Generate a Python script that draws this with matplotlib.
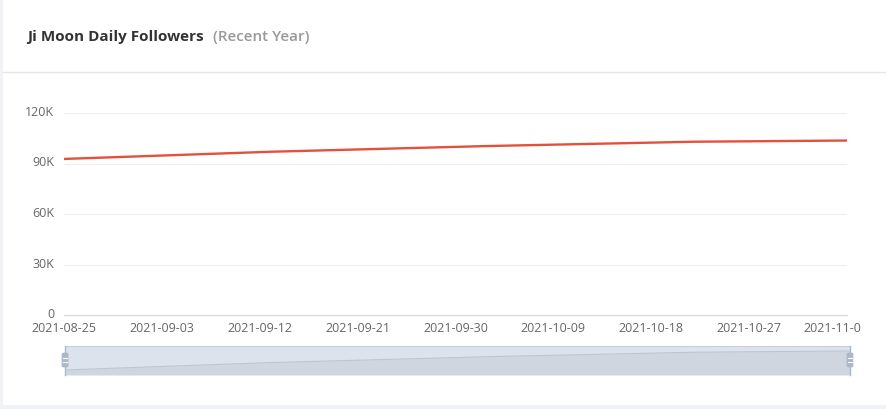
import matplotlib
matplotlib.use("Agg")
import matplotlib.pyplot as plt
import matplotlib.transforms as mtransforms
from matplotlib.patches import Rectangle, FancyBboxPatch
import numpy as np
import pandas as pd

plt.rcParams['font.family'] = ['Open Sans', 'DejaVu Sans']

title_main = "Ji Moon Daily Followers"
title_sub = "(Recent Year)"
start_date = "2021-08-25"
followers = [
    92700, 92930, 93150, 93380, 93600, 93830, 94050, 94280, 94500, 94730,
    94950, 95180, 95400, 95630, 95850, 96080, 96300, 96530, 96750, 96980,
    97150, 97320, 97490, 97660, 97830, 98000, 98170, 98340, 98510, 98680,
    98850, 99020, 99190, 99360, 99530, 99700, 99870, 100040, 100210, 100380,
    100510, 100650, 100780, 100920, 101050, 101190, 101320, 101460, 101590, 101730,
    101860, 102000, 102130, 102270, 102400, 102540, 102670, 102810, 102940, 102990,
    103040, 103090, 103140, 103190, 103240, 103290, 103340, 103390, 103440, 103490,
    103540, 103590, 103640,
]
y_ticks = [0, 30000, 60000, 90000, 120000]
y_tick_labels = ["0", "30K", "60K", "90K", "120K"]

dates = pd.date_range(start_date, periods=len(followers), freq="D")
x_ticks = dates[::9]
x_tick_labels = [d.strftime("%Y-%m-%d") for d in x_ticks]

W, H = 887, 409
fig = plt.figure(figsize=(W / 100, H / 100), dpi=100)
fig.patch.set_facecolor("white")

def fx(px):
    return px / W

def fy(py):
    return 1 - py / H

# card borders
fig.add_artist(Rectangle((0, 0), fx(3), 1, transform=fig.transFigure, color="#f0f2f5", lw=0))
fig.add_artist(Rectangle((0, 0), 1, 4 / H, transform=fig.transFigure, color="#f0f2f5", lw=0))
fig.add_artist(plt.Line2D([fx(3), 1], [fy(72), fy(72)], transform=fig.transFigure, color="#e6e6e6", lw=1))

# title
t = fig.text(fx(27), fy(37), title_main, fontsize=11.0, fontweight="bold", color="#333333", va="center", ha="left")
fig.canvas.draw()
bb = t.get_window_extent()
fig.text(bb.x1 / W + fx(9), fy(37), title_sub, fontsize=11.0, fontweight="semibold", color="#999999", va="center", ha="left")

# main axes
left, right, top, bottom = 64, 847, 113, 315
ax = fig.add_axes([fx(left), fy(bottom), fx(right - left), (bottom - top) / H])
ax.plot(dates, followers, color="#e5503d", lw=1.7, solid_capstyle="round")
ax.set_xlim(dates[0], dates[-1])
ax.set_ylim(0, 120000)
ax.set_yticks(y_ticks)
ax.set_yticklabels(y_tick_labels)
ax.set_xticks(x_ticks)
ax.set_xticklabels(x_tick_labels)
ax.tick_params(axis="both", length=0, labelsize=9, colors="#666666")
ax.tick_params(axis="y", pad=7)
ax.tick_params(axis="x", pad=5)
up = mtransforms.ScaledTranslation(0, 2 / 100, fig.dpi_scale_trans)
for lab in ax.get_yticklabels():
    lab.set_verticalalignment("center_baseline")
    lab.set_transform(lab.get_transform() + up)
ax.grid(axis="y", color="#eeeeee", lw=0.8)
ax.set_axisbelow(True)
for s in ["top", "right", "left"]:
    ax.spines[s].set_visible(False)
ax.spines["bottom"].set_color("#dddddd")
ax.spines["bottom"].set_linewidth(1)

# last label shifted in and clipped at the visible edge like the reference
clip_rect = Rectangle((0, 0), fx(861), 1, transform=fig.transFigure, visible=False)
fig.add_artist(clip_rect)
xlabs = ax.get_xticklabels()
shift = mtransforms.ScaledTranslation(-11 / 100, 0, fig.dpi_scale_trans)
xlabs[-1].set_transform(xlabs[-1].get_transform() + shift)
for lab in xlabs:
    lab.set_clip_path(clip_rect)
    lab.set_clip_on(True)

# data zoom slider
sl, sr, st, sb = 65, 850, 346, 375
sax = fig.add_axes([fx(sl), fy(sb), fx(sr - sl), (sb - st) / H])
sax.set_facecolor("#dde3ec")
sax.fill_between(dates, followers, 89800, color="#cfd6df", lw=0)
sax.plot(dates, followers, color="#bcc5d2", lw=0.8)
sax.set_xlim(dates[0], dates[-1])
sax.set_ylim(89800, 106500)
sax.set_xticks([])
sax.set_yticks([])
for s in sax.spines.values():
    s.set_visible(False)
sax.spines["top"].set_visible(True)
sax.spines["top"].set_color("#c8d0dc")
for xp in (sl, sr):
    fig.add_artist(plt.Line2D([fx(xp), fx(xp)], [fy(sb), fy(st)], transform=fig.transFigure, color="#a9b8cb", lw=1))
    fig.add_artist(FancyBboxPatch((fx(xp - 3), fy(367)), fx(6), 14 / H,
                                  boxstyle="round,pad=0,rounding_size=0.002",
                                  transform=fig.transFigure, facecolor="#a9b8cb", edgecolor="#a9b8cb", lw=0.5))
    for yy in (358, 362):
        fig.add_artist(plt.Line2D([fx(xp - 2), fx(xp + 2)], [fy(yy), fy(yy)], transform=fig.transFigure, color="white", lw=0.8))

fig.savefig("out.png", dpi=100, facecolor="white")
